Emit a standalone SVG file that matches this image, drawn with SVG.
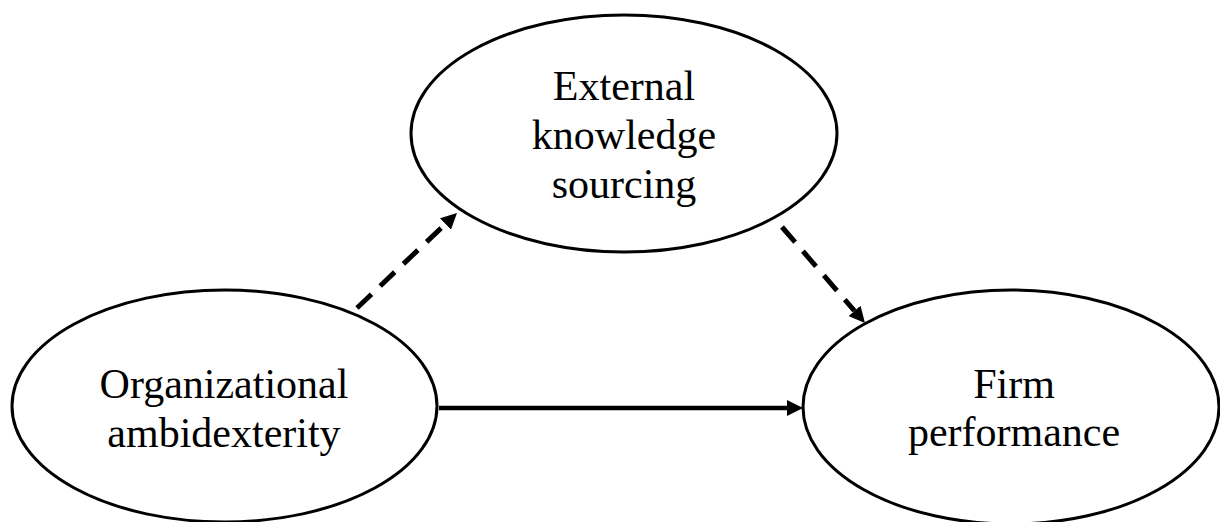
<svg xmlns="http://www.w3.org/2000/svg" width="1220" height="522" viewBox="0 0 1220 522">
<defs>
<style>
.node ellipse{fill:#fff;stroke:#000;stroke-width:3}
.node text{font-family:"Liberation Serif","Times New Roman",serif;font-size:42px;fill:#000;text-anchor:middle}
.conn{fill:none;stroke:#000;stroke-width:4.5}
.dash{stroke-width:5;stroke-dasharray:20 12}
</style>
<marker id="ah" viewBox="0 0 16 16" refX="0" refY="8" markerWidth="16" markerHeight="16" markerUnits="userSpaceOnUse" orient="auto">
<path d="M0,0 L16,8 L0,16 z" fill="#000"/>
</marker>
</defs>
<rect width="1220" height="522" fill="#fff"/>
<g id="node-eks" class="node">
<ellipse cx="624" cy="133.5" rx="213" ry="118.5"/>
<text x="624" y="100">External</text>
<text x="624" y="149">knowledge</text>
<text x="624" y="198">sourcing</text>
</g>
<g id="node-oa" class="node">
<ellipse cx="224.5" cy="406" rx="212.5" ry="116"/>
<text x="224" y="398">Organizational</text>
<text x="224" y="447">ambidexterity</text>
</g>
<g id="node-fp" class="node">
<ellipse cx="1011" cy="407" rx="208" ry="117"/>
<text x="1014" y="398">Firm</text>
<text x="1014" y="446">performance</text>
</g>
<g id="connectors">
<path class="conn dash" d="M357,308 L445.4,224" marker-end="url(#ah)"/>
<path class="conn dash" d="M782,227 L854.5,310.9" marker-end="url(#ah)"/>
<path class="conn" d="M439,408 L787,408" marker-end="url(#ah)"/>
</g>
</svg>
